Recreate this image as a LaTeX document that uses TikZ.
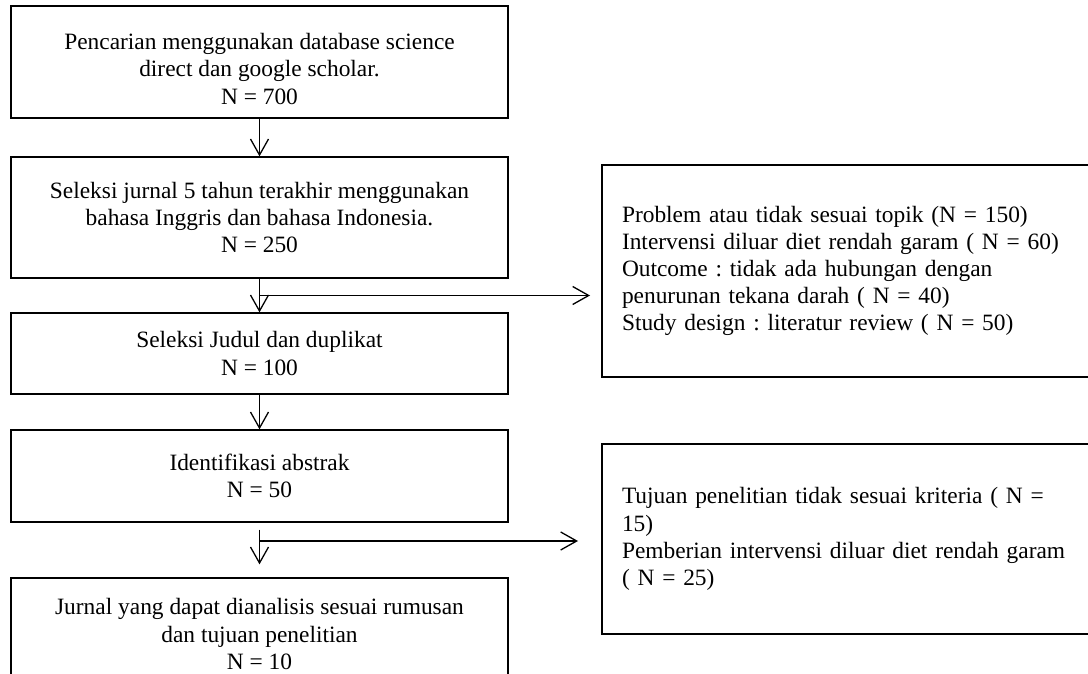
\documentclass[tikz,border=0pt]{standalone}
\usepackage{fontspec}
\setmainfont{Liberation Serif}
\usetikzlibrary{arrows.meta, positioning, calc}
\frenchspacing

\begin{document}
\begin{tikzpicture}[
            x=0.5pt, y=-0.5pt,
            box/.style={draw, rectangle, line width=0.65pt, minimum width=248.5pt, inner sep=0pt, align=center, font=\fontsize{11.7}{13.6}\selectfont},
            sidebox/.style={draw, rectangle, line width=0.65pt, text width=234pt, inner xsep=10pt, inner ysep=0pt, align=left, font=\fontsize{11.7}{13.6}\selectfont},
            arr/.style={->, line width=0.65pt},
            >={Straight Barb[length=8pt, width=9pt]}
        ]
            \clip (0,0) rectangle (1088,674);

            % main steps
            \node[box, minimum height=56pt] (A) at (259.5,62) {\rule{0pt}{15pt}Pencarian menggunakan database science\\ direct dan google scholar.\\ N = 700};
            \node[box, minimum height=60.5pt] (B) at (259.5,217.5) {Seleksi jurnal 5 tahun terakhir menggunakan\\ bahasa Inggris dan bahasa Indonesia.\\ N = 250};
            \node[box, minimum height=40.5pt] (C) at (259.5,353.5) {Seleksi Judul dan duplikat\\ N = 100};
            \node[box, minimum height=46pt] (D) at (259.5,476) {Identifikasi abstrak\\ N = 50};
            \node[box, minimum height=56pt] (E) at (259.5,634) {Jurnal yang dapat dianalisis sesuai rumusan\\ dan tujuan penelitian\\ N = 10};

            % excluded
            \node[sidebox, minimum height=106pt] (R1) at (856,271) {Problem atau tidak sesuai topik (N = 150)\\ Intervensi diluar diet rendah garam ( N = 60)\\ Outcome : tidak ada hubungan dengan\\ penurunan tekana darah ( N = 40)\\ Study design : literatur review ( N = 50)};
            \node[sidebox, minimum height=95pt] (R2) at (856,539) {Tujuan penelitian tidak sesuai kriteria ( N =\\ 15)\\ Pemberian intervensi diluar diet rendah garam\\ ( N = 25)};

            % branch points
            \coordinate (j1) at ($(B.south)!0.5!(C.north)$);
            \coordinate (e1) at (590,296);
            \coordinate (j2) at (259.5,541);
            \coordinate (e2) at (578,541);

            % Edges
            \draw[arr] (A) -- (B);
            \draw[arr] (B) -- (C);
            \draw[arr] (C) -- (D);
            \draw[arr] ($(D.south)+(0,7)$) -- ($(E.north)+(0,-13)$);

            \draw[arr] (j1) -- (j1 -| e1);
            \draw[arr] (j2) -- (e2);
        \end{tikzpicture}
\end{document}
